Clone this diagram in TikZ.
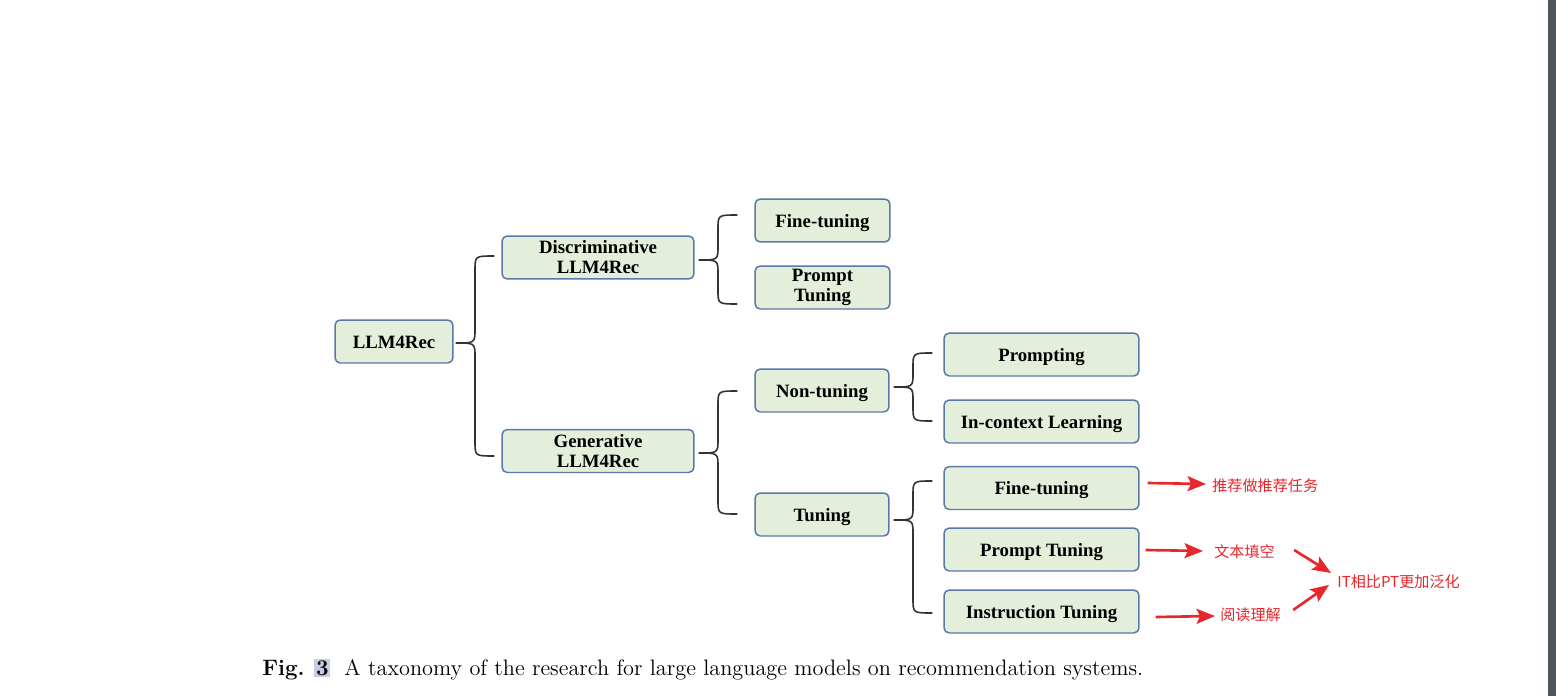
\documentclass[tikz,border=0pt]{standalone}
\usepackage{fontspec}
\newfontfamily\tnr{Liberation Serif}
\newfontfamily\cjk{Noto Sans CJK SC}
\usetikzlibrary{calc,arrows.meta}
\definecolor{boxfill}{HTML}{E3EFDA}
\definecolor{boxline}{HTML}{5A78A8}
\definecolor{notered}{HTML}{E8262B}
\definecolor{hilite}{HTML}{C8CCE0}
\definecolor{barcol}{HTML}{50555C}
% curly brace: tip, top end, bottom end
\newcommand\tbrace[3]{%
  \draw[bracepath] let \p1=(#1), \p2=(#2), \p3=(#3) in
    (\p2) .. controls ({(\x1+\x2)/2},\y2) .. ({(\x1+\x2)/2},\y2-8pt)
    -- ({(\x1+\x2)/2},\y1+8pt) .. controls ({(\x1+\x2)/2},\y1) .. (\p1)
    .. controls ({(\x1+\x2)/2},\y1) .. ({(\x1+\x2)/2},\y1-8pt)
    -- ({(\x1+\x2)/2},\y3+8pt) .. controls ({(\x1+\x2)/2},\y3) .. (\p3);}
\begin{document}
\begin{tikzpicture}[x=0.02cm,y=-0.02cm,
    taxbox/.style={draw=boxline,line width=0.85pt,fill=boxfill,rounded corners=3pt,
      minimum height=0.86cm,inner sep=0pt,align=center,
      font=\tnr\bfseries\fontsize{10.7}{11.4}\selectfont},
    oneline/.style={taxbox,text height=0.95em,text depth=0.2em},
    bracepath/.style={draw=black!80,line width=0.9pt},
    note/.style={anchor=west,inner sep=0pt,text=notered,font=\cjk\fontsize{8.6}{10}\selectfont},
    redarr/.style={draw=notered,line width=1.5pt,-{Stealth[length=10.5pt,width=8.5pt,inset=2pt]}}]
  \useasboundingbox[fill=white] (0,0) rectangle (1556,696);
  \fill[barcol] (1548,0) rectangle (1556,696);
  % taxonomy
  \node[oneline,minimum width=2.36cm] (root) at (394,341.5) {LLM4Rec};
  \node[taxbox,minimum width=3.84cm] (disc) at (598,257.5) {Discriminative\\LLM4Rec};
  \node[taxbox,minimum width=3.84cm] (gen) at (598,451) {Generative\\LLM4Rec};
  \node[oneline,minimum width=2.7cm] (dft) at (822.5,220.5) {Fine-tuning};
  \node[taxbox,minimum width=2.7cm] (dpt) at (822.5,287.5) {Prompt\\Tuning};
  \node[oneline,minimum width=2.68cm] (ntun) at (822,390.5) {Non-tuning};
  \node[oneline,minimum width=2.68cm] (tun) at (822,514.5) {Tuning};
  \node[oneline,minimum width=3.9cm] (prm) at (1041.5,354.5) {Prompting};
  \node[oneline,minimum width=3.9cm] (icl) at (1041.5,421.5) {In-context Learning};
  \node[oneline,minimum width=3.9cm] (gft) at (1041.5,488) {Fine-tuning};
  \node[oneline,minimum width=3.9cm] (gpt) at (1041.5,549.5) {Prompt Tuning};
  \node[oneline,minimum width=3.9cm] (ins) at (1041.5,611.5) {Instruction Tuning};
  \tbrace{$(root.east)+(2,1.5)$}{$(disc.west)+(-7,-1.5)$}{$(gen.west)+(-7,5)$}
  \tbrace{$(disc.east)+(4,2.5)$}{$(dft.west)+(-17,-5.5)$}{$(dpt.west)+(-17,16.5)$}
  \tbrace{$(gen.east)+(4,2)$}{$(ntun.west)+(-17,0.5)$}{$(tun.west)+(-17,-0.5)$}
  \tbrace{$(ntun.east)+(4,-3.5)$}{$(prm.west)+(-11,-1.5)$}{$(icl.west)+(-11,-0.5)$}
  \tbrace{$(tun.east)+(4,5.5)$}{$(gft.west)+(-11,-7)$}{$(ins.west)+(-11,1.5)$}
  % notes
  \node[note] (n1) at (1212,486) {推荐做推荐任务};
  \node[note] (n2) at (1214,552) {文本填空};
  \node[note] (n3) at (1220,615) {阅读理解};
  \node[note] (n4) at (1337,582) {IT相比PT更加泛化};
  \draw[redarr] ($(gft.east)+(8,-5)$) -- ($(n1.west)+(-6,-2)$);
  \draw[redarr] ($(gpt.east)+(6,0.5)$) -- ($(n2.west)+(-11,-1)$);
  \draw[redarr] ($(ins.east)+(16,5.5)$) -- ($(n3.west)+(-5,1)$);
  \draw[redarr] ($(n2.east)+(19,-2)$) -- ($(n4.west)+(-6,-9)$);
  \draw[redarr] ($(n3.east)+(12,-5)$) -- ($(n4.west)+(-8,3)$);
  % caption
  \node[anchor=base west,inner sep=0pt] (cap) at (262,675) {\fontsize{12.7}{14}\selectfont
    \textbf{Fig.} {\setlength\fboxsep{1pt}\colorbox{hilite}{\textbf{3}}}\hspace{8pt}%
    A taxonomy of the research for large language models on recommendation systems.};
\end{tikzpicture}
\end{document}
